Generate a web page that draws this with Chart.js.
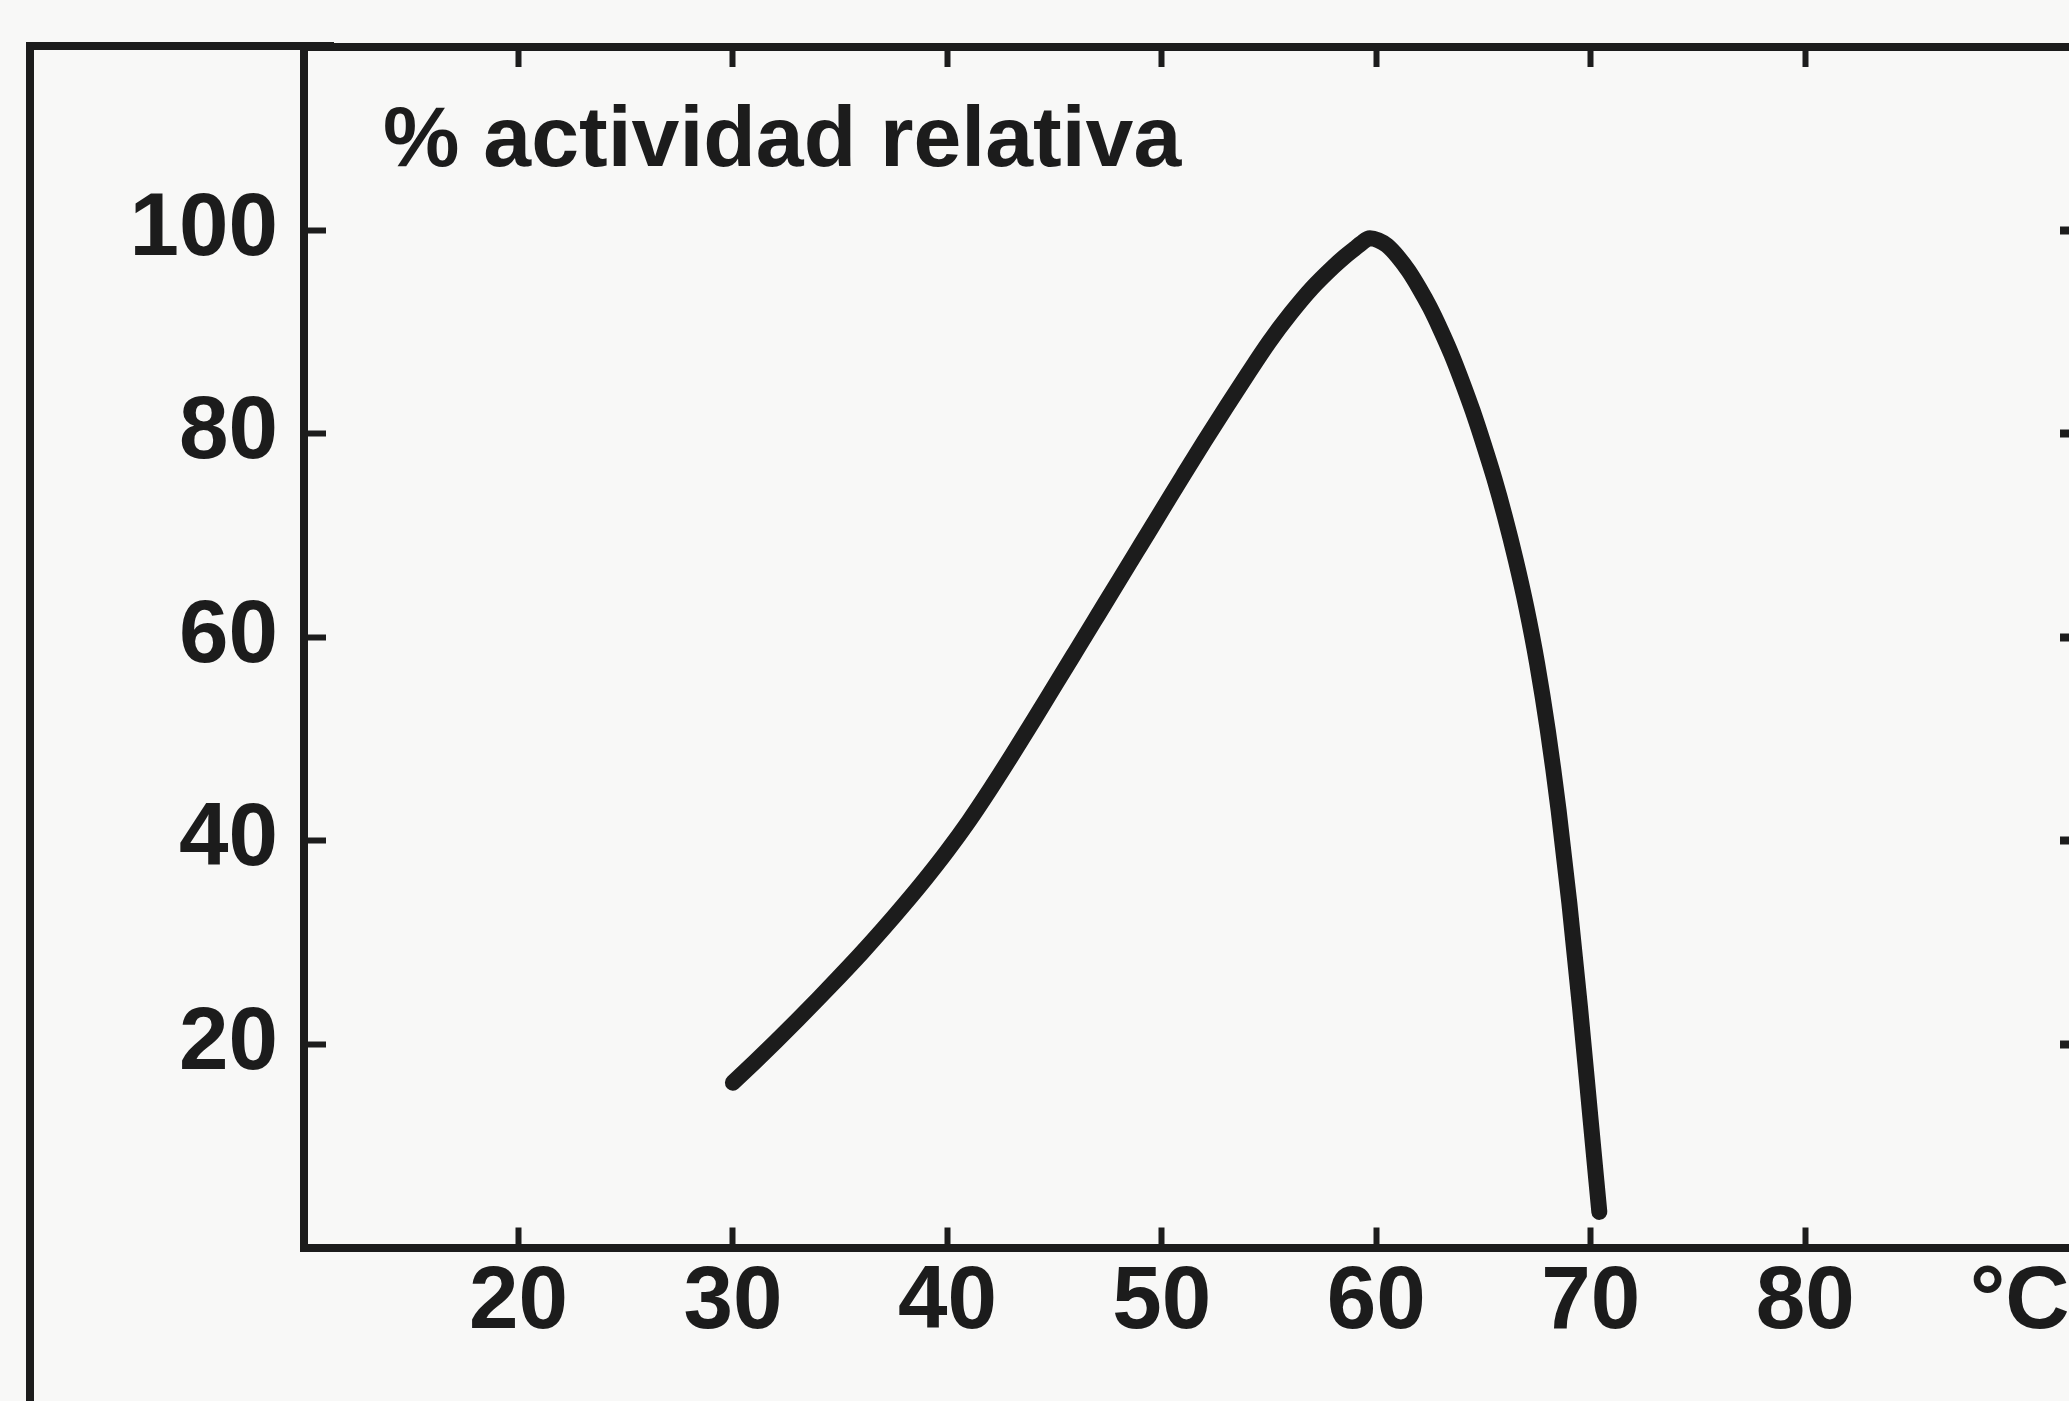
<!DOCTYPE html>
<html>
<head>
<meta charset="utf-8">
<script src="https://cdn.jsdelivr.net/npm/chart.js@4/dist/chart.umd.min.js"></script>
<style>
html,body{margin:0;padding:0;background:#f8f8f7;overflow:hidden;width:2069px;height:1401px;}
#wrap{position:relative;width:2069px;height:1401px;overflow:hidden;}
#frame{position:absolute;left:26px;top:42px;width:300px;height:1500px;border-left:8px solid #1c1c1c;border-top:8px solid #1c1c1c;}
canvas{position:absolute;left:0;top:0;}
</style>
</head>
<body>
<div id="wrap"><div id="frame"></div><canvas id="c" width="2078" height="1401"></canvas></div>
<script>
// ---- data ----
const temperatures = [30, 31, 32, 33, 34, 35, 36, 37, 38, 39, 40, 41, 42, 43, 44, 45, 46, 47, 48, 49, 50,
  51, 52, 53, 54, 55, 56, 57, 58, 58.5, 59, 59.3, 59.7, 60.1, 60.5, 61, 61.5, 62, 62.5, 63, 63.5,
  64, 64.5, 65, 65.5, 66, 66.5, 67, 67.5, 68, 68.5, 69, 69.5, 70, 70.4];
const activity = [16.2, 18.2, 20.25, 22.35, 24.5, 26.7, 28.95, 31.3, 33.75, 36.3, 39.0, 41.9, 45.05, 48.35, 51.75, 55.2, 58.65, 62.1, 65.55, 69.0, 72.45,
  75.9, 79.3, 82.6, 85.85, 89.0, 91.8, 94.3, 96.4, 97.35, 98.2, 98.7, 99.2, 99.0, 98.5, 97.4, 96.0, 94.3, 92.4, 90.2, 87.8,
  85.1, 82.2, 79.0, 75.6, 71.8, 67.6, 62.9, 57.4, 50.8, 43.0, 33.9, 23.6, 12.4, 3.5];
const xTickValues = [20, 30, 40, 50, 60, 70, 80];
const yTickValues = [20, 40, 60, 80, 100];
const xUnitLabel = '°C';
const xUnitValue = 90;
const titleText = '% actividad relativa';

const ink = '#1c1c1c';
const fontFamily = '"Liberation Sans", Arial, Helvetica, sans-serif';

const insideTitle = {
  id: 'insideTitle',
  afterDraw(chart) {
    const {ctx, chartArea} = chart;
    ctx.save();
    ctx.font = 'bold 86px ' + fontFamily;
    ctx.fillStyle = ink;
    ctx.textBaseline = 'alphabetic';
    ctx.textAlign = 'left';
    ctx.fillText(titleText, chartArea.left + 79, chartArea.top + 119);
    ctx.restore();
  }
};

const points = temperatures.map((t, i) => ({x: t, y: activity[i]}));

function noPad(scale) {
  scale.paddingTop = 0; scale.paddingBottom = 0;
  scale.paddingLeft = 0; scale.paddingRight = 0;
}

const X_MIN = 10, X_MAX = 92.72, Y_MIN = 0, Y_MAX = 118;

new Chart(document.getElementById('c'), {
  type: 'line',
  data: {
    datasets: [{
      data: points,
      borderColor: ink,
      borderWidth: 16,
      borderCapStyle: 'round',
      borderJoinStyle: 'round',
      pointRadius: 0,
      cubicInterpolationMode: 'monotone',
      fill: false
    }]
  },
  options: {
    responsive: false,
    animation: false,
    devicePixelRatio: 1,
    layout: {padding: {top: 47, left: 0, right: 0, bottom: 0}},
    plugins: {legend: {display: false}, tooltip: {enabled: false}, title: {display: false}},
    scales: {
      x: {
        type: 'linear',
        position: 'bottom',
        min: X_MIN,
        max: X_MAX,
        afterBuildTicks(scale) {
          scale.ticks = xTickValues.concat([xUnitValue]).map(v => ({value: v}));
        },
        afterFit(scale) { scale.height = 1401 - 1247.5; noPad(scale); },
        border: {display: true, color: ink, width: 8},
        grid: {
          display: true,
          drawOnChartArea: false,
          drawTicks: true,
          tickLength: -20,
          tickWidth: 6,
          tickColor: ctx => (ctx.tick && ctx.tick.value === xUnitValue) ? 'rgba(0,0,0,0)' : ink
        },
        ticks: {
          color: ink,
          padding: 23,
          maxRotation: 0,
          autoSkip: false,
          font: {family: fontFamily, size: 89, weight: 'bold'},
          callback: v => v === xUnitValue ? xUnitLabel : String(v)
        }
      },
      x2: {
        type: 'linear',
        position: 'top',
        min: X_MIN,
        max: X_MAX,
        afterBuildTicks(scale) {
          scale.ticks = xTickValues.map(v => ({value: v}));
        },
        afterFit(scale) { scale.height = 0; noPad(scale); },
        border: {display: true, color: ink, width: 8},
        grid: {display: true, drawOnChartArea: false, drawTicks: true, tickLength: -20, tickWidth: 6, tickColor: ink},
        ticks: {display: false}
      },
      y: {
        type: 'linear',
        position: 'left',
        min: Y_MIN,
        max: Y_MAX,
        afterBuildTicks(scale) {
          scale.ticks = yTickValues.map(v => ({value: v}));
        },
        afterFit(scale) { scale.width = 304; noPad(scale); },
        border: {display: true, color: ink, width: 8},
        grid: {display: true, drawOnChartArea: false, drawTicks: true, tickLength: -22, tickWidth: 6, tickColor: ink},
        ticks: {
          color: ink,
          padding: 48,
          autoSkip: false,
          font: {family: fontFamily, size: 89, weight: 'bold'},
          callback: v => String(v)
        }
      },
      y2: {
        type: 'linear',
        position: 'right',
        min: Y_MIN,
        max: Y_MAX,
        afterBuildTicks(scale) {
          scale.ticks = yTickValues.map(v => ({value: v}));
        },
        afterFit(scale) { scale.width = 0; noPad(scale); },
        border: {display: false},
        grid: {display: true, drawOnChartArea: false, drawTicks: true, tickLength: -18, tickWidth: 8, tickColor: ink},
        ticks: {display: false}
      }
    }
  },
  plugins: [insideTitle]
});
</script>
</body>
</html>
